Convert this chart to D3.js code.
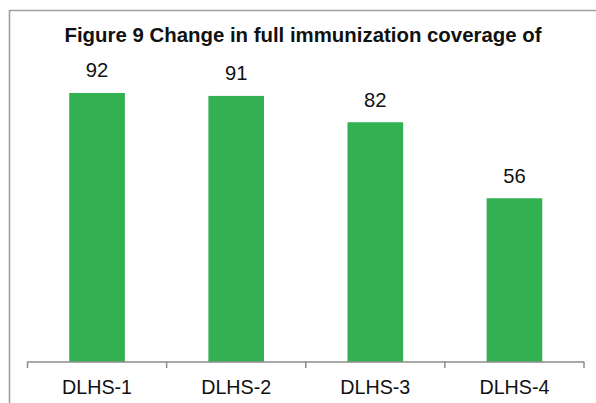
<!DOCTYPE html>
<html><head><meta charset="utf-8">
<script src="https://cdn.jsdelivr.net/npm/d3@7"></script>
<style>
html,body{margin:0;padding:0;background:#fff;}
svg{display:block;}
</style></head>
<body>
<svg id="c" width="596" height="403"></svg>
<script>
const categories = ["DLHS-1","DLHS-2","DLHS-3","DLHS-4"];
const values = [92,91,82,56];
const title = "Figure 9 Change in full immunization coverage of";

const svg = d3.select("#c");
const W = 596, H = 403;
const font = "'Liberation Sans', Arial, sans-serif";

// frame
svg.append("path")
  .attr("d", `M9.5,${H} L9.5,10.5 L${W},10.5`)
  .attr("fill","none").attr("stroke","#a0a0a0").attr("stroke-width",1.6);

const x = d3.scaleBand().domain(categories).range([27.5,584]).paddingInner(0.6).paddingOuter(0.3);
const y = d3.scaleLinear().domain([0,100]).range([362,69.6]);

svg.append("text")
  .attr("x", 303).attr("y", 42)
  .attr("text-anchor","middle")
  .attr("font-family",font).attr("font-weight","bold").attr("font-size",20.4)
  .attr("fill","#111")
  .text(title);

svg.selectAll("rect.bar").data(values).enter().append("rect")
  .attr("class","bar")
  .attr("x",(d,i)=>x(categories[i]))
  .attr("width",x.bandwidth())
  .attr("y",d=>y(d))
  .attr("height",d=>y(0)-y(d))
  .attr("fill","#33b152");

svg.selectAll("text.val").data(values).enter().append("text")
  .attr("class","val")
  .attr("x",(d,i)=>x(categories[i])+x.bandwidth()/2)
  .attr("y",d=>y(d)-15.5)
  .attr("text-anchor","middle")
  .attr("font-family",font).attr("font-size",20.2)
  .attr("fill","#111")
  .text(d=>d);

// axis
const xa = d3.scalePoint().domain(d3.range(categories.length+1)).range([27.5,584]);
const g = svg.append("g");
g.append("line").attr("x1",27.5).attr("x2",584).attr("y1",362).attr("y2",362)
  .attr("stroke","#8c8c8c").attr("stroke-width",1.5);
g.selectAll("line.tk").data(xa.domain()).enter().append("line")
  .attr("class","tk")
  .attr("x1",d=>xa(d)).attr("x2",d=>xa(d))
  .attr("y1",361.5).attr("y2",368)
  .attr("stroke","#8c8c8c").attr("stroke-width",1.5);
g.selectAll("text.lab").data(categories).enter().append("text")
  .attr("class","lab")
  .attr("x",d=>x(d)+x.bandwidth()/2)
  .attr("y",393.5)
  .attr("text-anchor","middle")
  .attr("font-family",font).attr("font-size",19.7)
  .attr("fill","#111")
  .text(d=>d);
</script>
</body></html>
